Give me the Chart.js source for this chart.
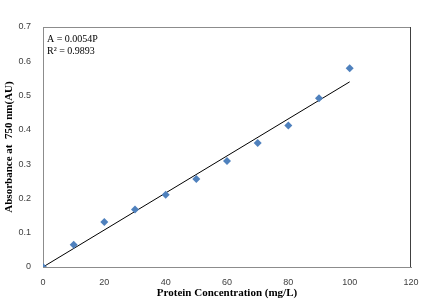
<!DOCTYPE html>
<html>
<head>
<meta charset="utf-8">
<script src="https://cdn.jsdelivr.net/npm/chart.js@4"></script>
<style>
  html, body { margin: 0; padding: 0; background: #fff; }
  #wrap { width: 435px; height: 302px; }
</style>
</head>
<body>
<div id="wrap"><canvas id="calibChart"></canvas></div>
<script>
// Concentración de proteína (mg/L) y absorbancia medida
const concentration = [0, 10, 20, 30, 40, 50, 60, 70, 80, 90, 100];
const absorbance = [0, 0.065, 0.131, 0.168, 0.211, 0.257, 0.309, 0.362, 0.413, 0.492, 0.58];
// Recta de ajuste A = 0.0054P
const slope = 0.0054;
const fitX = [0, 100];
const equationLines = ['A = 0.0054P', 'R\u00b2 = 0.9893'];

const scatterPoints = concentration.map((c, i) => ({ x: c, y: absorbance[i] }));
const fitPoints = fitX.map(c => ({ x: c, y: slope * c }));

// Marco del área de trazado y texto de la ecuación
const framePlugin = {
    id: 'frame',
    beforeDatasetsDraw(chart) {
        const { ctx, chartArea: a } = chart;
        ctx.save();
        ctx.lineWidth = 1;
        ctx.strokeStyle = '#8c8c8c';
        ctx.beginPath();
        ctx.moveTo(a.left, a.top + 0.5);
        ctx.lineTo(a.right, a.top + 0.5);
        ctx.stroke();
        ctx.strokeStyle = '#404040';
        ctx.beginPath();
        ctx.moveTo(a.right - 0.5, a.top);
        ctx.lineTo(a.right - 0.5, a.bottom);
        ctx.stroke();
        ctx.restore();
    },
    afterDraw(chart) {
        const { ctx, chartArea: a } = chart;
        ctx.save();
        ctx.font = '10px "Liberation Serif", "Times New Roman", serif';
        ctx.fillStyle = '#000';
        ctx.textBaseline = 'middle';
        equationLines.forEach((t, i) => ctx.fillText(t, a.left + 4, a.top + 12 + i * 12));
        ctx.restore();
    }
};

const ctx = document.getElementById('calibChart').getContext('2d');
const calibChart = new Chart(ctx, {
    type: 'scatter',
    data: {
        datasets: [
            {
                label: 'Absorbancia',
                data: scatterPoints,
                pointStyle: 'rectRot',
                pointRadius: 4,
                backgroundColor: '#4F81BD',
                borderColor: '#4F81BD',
                borderWidth: 0,
            },
            {
                label: 'Ajuste lineal',
                type: 'line',
                data: fitPoints,
                borderColor: '#000',
                borderWidth: 1,
                pointRadius: 0,
                fill: false,
            },
        ],
    },
    options: {
        responsive: true,
        maintainAspectRatio: false,
        animation: false,
        layout: { padding: { top: 27, right: 24, left: 0, bottom: 0 } },
        plugins: {
            legend: { display: false },
            tooltip: { enabled: false },
        },
        scales: {
            x: {
                type: 'linear',
                min: 0,
                max: 120,
                ticks: {
                    stepSize: 20,
                    padding: 10,
                    color: '#404040',
                    font: { family: '"Liberation Sans", Arial, sans-serif', size: 9 },
                },
                grid: { display: false, drawTicks: false },
                border: { color: '#8c8c8c' },
                title: {
                    display: true,
                    text: 'Protein Concentration (mg/L)',
                    color: '#000',
                    font: { family: '"Liberation Serif", "Times New Roman", serif', size: 11, weight: 'bold' },
                    padding: { top: 0, bottom: 2 },
                },
                afterFit(scale) { scale.height = 35; },
            },
            y: {
                min: 0,
                max: 0.7,
                ticks: {
                    stepSize: 0.1,
                    padding: 12,
                    color: '#404040',
                    font: { family: '"Liberation Sans", Arial, sans-serif', size: 9 },
                },
                grid: { display: false, drawTicks: false },
                border: { color: '#8c8c8c' },
                title: {
                    display: true,
                    text: 'Absorbance at  750 nm(AU)',
                    color: '#000',
                    font: { family: '"Liberation Serif", "Times New Roman", serif', size: 11, weight: 'bold' },
                    padding: { top: 3, bottom: 0 },
                },
                afterFit(scale) { scale.width = 43; },
            },
        },
    },
    plugins: [framePlugin],
});
</script>
</body>
</html>
